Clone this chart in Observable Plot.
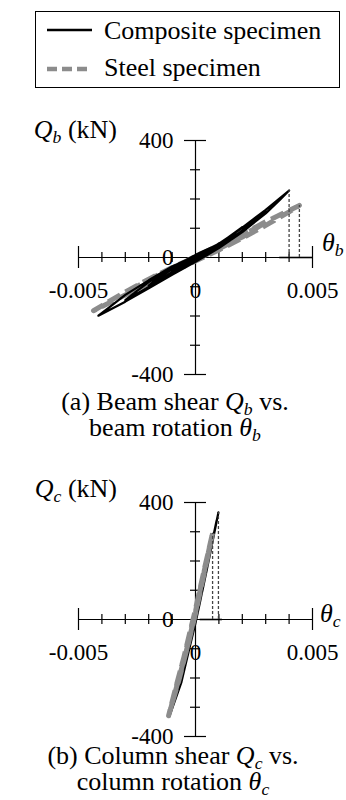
<!DOCTYPE html>
<html>
<head>
<meta charset="utf-8">
<script src="https://cdn.jsdelivr.net/npm/d3@7"></script>
<script src="https://cdn.jsdelivr.net/npm/@observablehq/plot@0.6"></script>
<style>
  html, body { margin: 0; padding: 0; background: #fff; }
  body { width: 346px; height: 800px; position: relative; overflow: hidden;
         font-family: "Liberation Serif", "Times New Roman", serif; color: #000; }
  .abs { position: absolute; white-space: nowrap; }
  .legend { left: 35px; top: 11px; width: 303px; height: 75px; border: 1.5px solid #000; }
  .legend .row { position: absolute; left: 0; height: 36px; font-size: 26px; line-height: 36px; }
  .legend .row span { position: absolute; left: 68px; }
  .legend svg { position: absolute; left: 11px; top: 0; }
  .lbl { font-size: 26px; line-height: 26px; }
  sub { font-size: 0.68em; vertical-align: -0.28em; line-height: 0; }
  .cap { font-size: 26px; line-height: 26px; text-align: center; width: 346px; }
  .panel { position: absolute; left: 0; }
</style>
</head>
<body>
<div class="abs legend">
  <div class="row" style="top:1px;">
    <svg width="50" height="36"><line x1="0" x2="45" y1="17" y2="17" stroke="#000" stroke-width="2.5"/></svg>
    <span>Composite specimen</span>
  </div>
  <div class="row" style="top:38px;">
    <svg width="50" height="36"><line x1="0" x2="45" y1="19" y2="19" stroke="#8c8c8c" stroke-width="4.5" stroke-dasharray="10,5"/></svg>
    <span>Steel specimen</span>
  </div>
</div>

<div id="panelA" class="panel" style="top:90px;"></div>
<div class="abs lbl" style="right:229px; top:117px;"><i>Q</i><sub><i>b</i></sub> (kN)</div>
<div class="abs lbl" style="left:322px; top:230px;"><i>θ</i><sub><i>b</i></sub></div>
<div class="abs cap" style="left:2px; top:389px;">(a) Beam shear <i>Q</i><sub><i>b</i></sub> vs.<br>beam rotation <i>θ</i><sub><i>b</i></sub></div>

<div id="panelB" class="panel" style="top:452px;"></div>
<div class="abs lbl" style="right:229px; top:476px;"><i>Q</i><sub><i>c</i></sub> (kN)</div>
<div class="abs lbl" style="left:320px; top:601px;"><i>θ</i><sub><i>c</i></sub></div>
<div class="abs cap" style="left:0px; top:743px;">(b) Column shear <i>Q</i><sub><i>c</i></sub> vs.<br>column rotation <i>θ</i><sub><i>c</i></sub></div>

<script>
// Axis ticks (rotation in rad, shear in kN)
const xMinorTicks = [-0.004, -0.003, -0.002, -0.001, 0.001, 0.002, 0.003, 0.004];
const xEndTicks = [-0.005, 0.005];
const yMinorTicks = [-300, -200, -100, 100, 200, 300];
const yEndTicks = [-400, 400];
const xTickValues = [-0.005, 0, 0.005];
const xTickLabels = ["-0.005", "0", "0.005"];
const yTickValues = [400, 0, -400];
const yTickLabels = ["400", "0", "-400"];

// (a) Beam shear vs. beam rotation — [rotation, shear]
const beamComposite = [
  [0, 0], [0.0005, 22], [0.001, 48], [0.0006, 26], [0, -4], [-0.0005, -22], [-0.001, -46], [-0.0006, -24], [0, 4],
  [0.001, 46], [0.002, 104], [0.0016, 78], [0.001, 42], [0, -9], [-0.001, -50], [-0.002, -96], [-0.0016, -70], [-0.001, -40], [0, 7],
  [0.001, 47], [0.002, 101], [0.003, 160], [0.0025, 126], [0.002, 92], [0.001, 37], [0, -12], [-0.001, -55], [-0.002, -101], [-0.003, -146], [-0.0025, -114], [-0.002, -84], [-0.001, -35], [0, 9],
  [0.001, 46], [0.002, 102], [0.003, 163], [0.004, 229], [0.0036, 197], [0.003, 151], [0.002, 87], [0.001, 32], [0, -15], [-0.001, -59], [-0.002, -105], [-0.003, -151], [-0.00415, -199], [-0.0037, -171], [-0.003, -128], [-0.002, -78], [-0.001, -31], [0, 6]
];
const beamSteel = [
  [0, 0], [0.001, 36], [0.002, 76], [0.003, 120], [0.0026, 100], [0.002, 70], [0.001, 30], [0, -8], [-0.001, -44], [-0.002, -84], [-0.003, -124], [-0.0026, -104], [-0.002, -76], [-0.001, -36], [0, 4],
  [0.001, 40], [0.002, 80], [0.003, 122], [0.00444, 178], [0.004, 156], [0.003, 110], [0.002, 66], [0.001, 26], [0, -12], [-0.001, -48], [-0.002, -88], [-0.003, -128], [-0.00436, -182], [-0.0039, -160], [-0.003, -118], [-0.002, -74], [-0.001, -34], [0, 2]
];
const beamPeaks = [[0.004, 229], [0.00444, 178]];
const beamBand = [0.0036, 0.005];

// (b) Column shear vs. column rotation — [rotation, shear]
const columnComposite = [
  [0, 0], [0.0003, 100], [0.0006, 215], [0.00098, 366], [0.0008, 298], [0.0005, 180], [0.0002, 62], [0, -12],
  [-0.0003, -112], [-0.0006, -214], [-0.00112, -332], [-0.0009, -262], [-0.0006, -168], [-0.0003, -74], [0, 14],
  [0.0003, 108], [0.0006, 222], [0.0009, 338]
];
const columnSteel = [
  [0, 28], [0.0003, 140], [0.00073, 295], [0.0005, 205], [0.0002, 95], [0, 20], [-0.0003, -80], [-0.0007, -205],
  [-0.00115, -329], [-0.0009, -250], [-0.0005, -130], [-0.0002, -30], [0, 35], [0.0004, 180], [0.0007, 285],
  [0.0005, 210], [0.0002, 100], [0, 24], [-0.0004, -110], [-0.0008, -228], [-0.0011, -316], [-0.0008, -222],
  [-0.0004, -100], [0, 30]
];
const columnPeaks = [[0.00098, 366], [0.00073, 295]];
const columnBand = [0.0002, 0.00115];

const toRows = (pts) => pts.map(([t, q]) => ({t, q}));

function panel(composite, steel, peaks, band, compositeOnTop) {
  const steelMark = Plot.line(toRows(steel), {
    x: "t", y: "q", stroke: "#8c8c8c", strokeWidth: 5,
    strokeDasharray: "14,6", strokeLinejoin: "round", strokeLinecap: "butt"
  });
  const compMark = Plot.line(toRows(composite), {
    x: "t", y: "q", stroke: "#000", strokeWidth: 2.2, strokeLinejoin: "round"
  });
  const curves = compositeOnTop ? [steelMark, compMark] : [compMark, steelMark];
  return Plot.plot({
    width: 346, height: 350,
    marginTop: 50, marginBottom: 66, marginLeft: 78, marginRight: 34,
    x: {domain: [-0.005, 0.005], axis: null},
    y: {domain: [-400, 400], axis: null},
    style: {fontFamily: '"Liberation Serif", "Times New Roman", serif', background: "transparent", overflow: "visible"},
    marks: [
      Plot.ruleY([0], {x1: band[0], x2: band[1], stroke: "#b5b5b5", strokeWidth: 3}),
      Plot.ruleY([0], {x1: -0.005, x2: 0.005, stroke: "#000", strokeWidth: 1.2}),
      Plot.ruleX([0], {y1: -400, y2: 400, stroke: "#000", strokeWidth: 1.2}),
      Plot.ruleX(xMinorTicks, {x: d => d, y1: 0, y2: 0, insetTop: -5, insetBottom: -5, stroke: "#000", strokeWidth: 1.2}),
      Plot.ruleX(xEndTicks, {x: d => d, y1: 0, y2: 0, insetTop: -11, insetBottom: -11, stroke: "#000", strokeWidth: 1.2}),
      Plot.ruleY(yMinorTicks, {y: d => d, x1: 0, x2: 0, insetLeft: -5, insetRight: -5, stroke: "#000", strokeWidth: 1.2}),
      Plot.ruleY(yEndTicks, {y: d => d, x1: 0, x2: 0, insetLeft: -11, insetRight: -11, stroke: "#000", strokeWidth: 1.2}),
      ...curves,
      Plot.ruleX(toRows(peaks), {x: "t", y1: 0, y2: "q", stroke: "#444", strokeWidth: 1.3, strokeDasharray: "3,2"}),
      Plot.text(yTickValues, {x: 0, y: d => d, text: (d, i) => yTickLabels[i], textAnchor: "end", dx: -22, fontSize: 23, fill: "#000"}),
      Plot.text(xTickValues, {x: d => d, y: 0, text: (d, i) => xTickLabels[i], dy: 33, fontSize: 23, fill: "#000"})
    ]
  });
}

document.getElementById("panelA").append(panel(beamComposite, beamSteel, beamPeaks, beamBand, true));
document.getElementById("panelB").append(panel(columnComposite, columnSteel, columnPeaks, columnBand, false));
</script>
</body>
</html>
